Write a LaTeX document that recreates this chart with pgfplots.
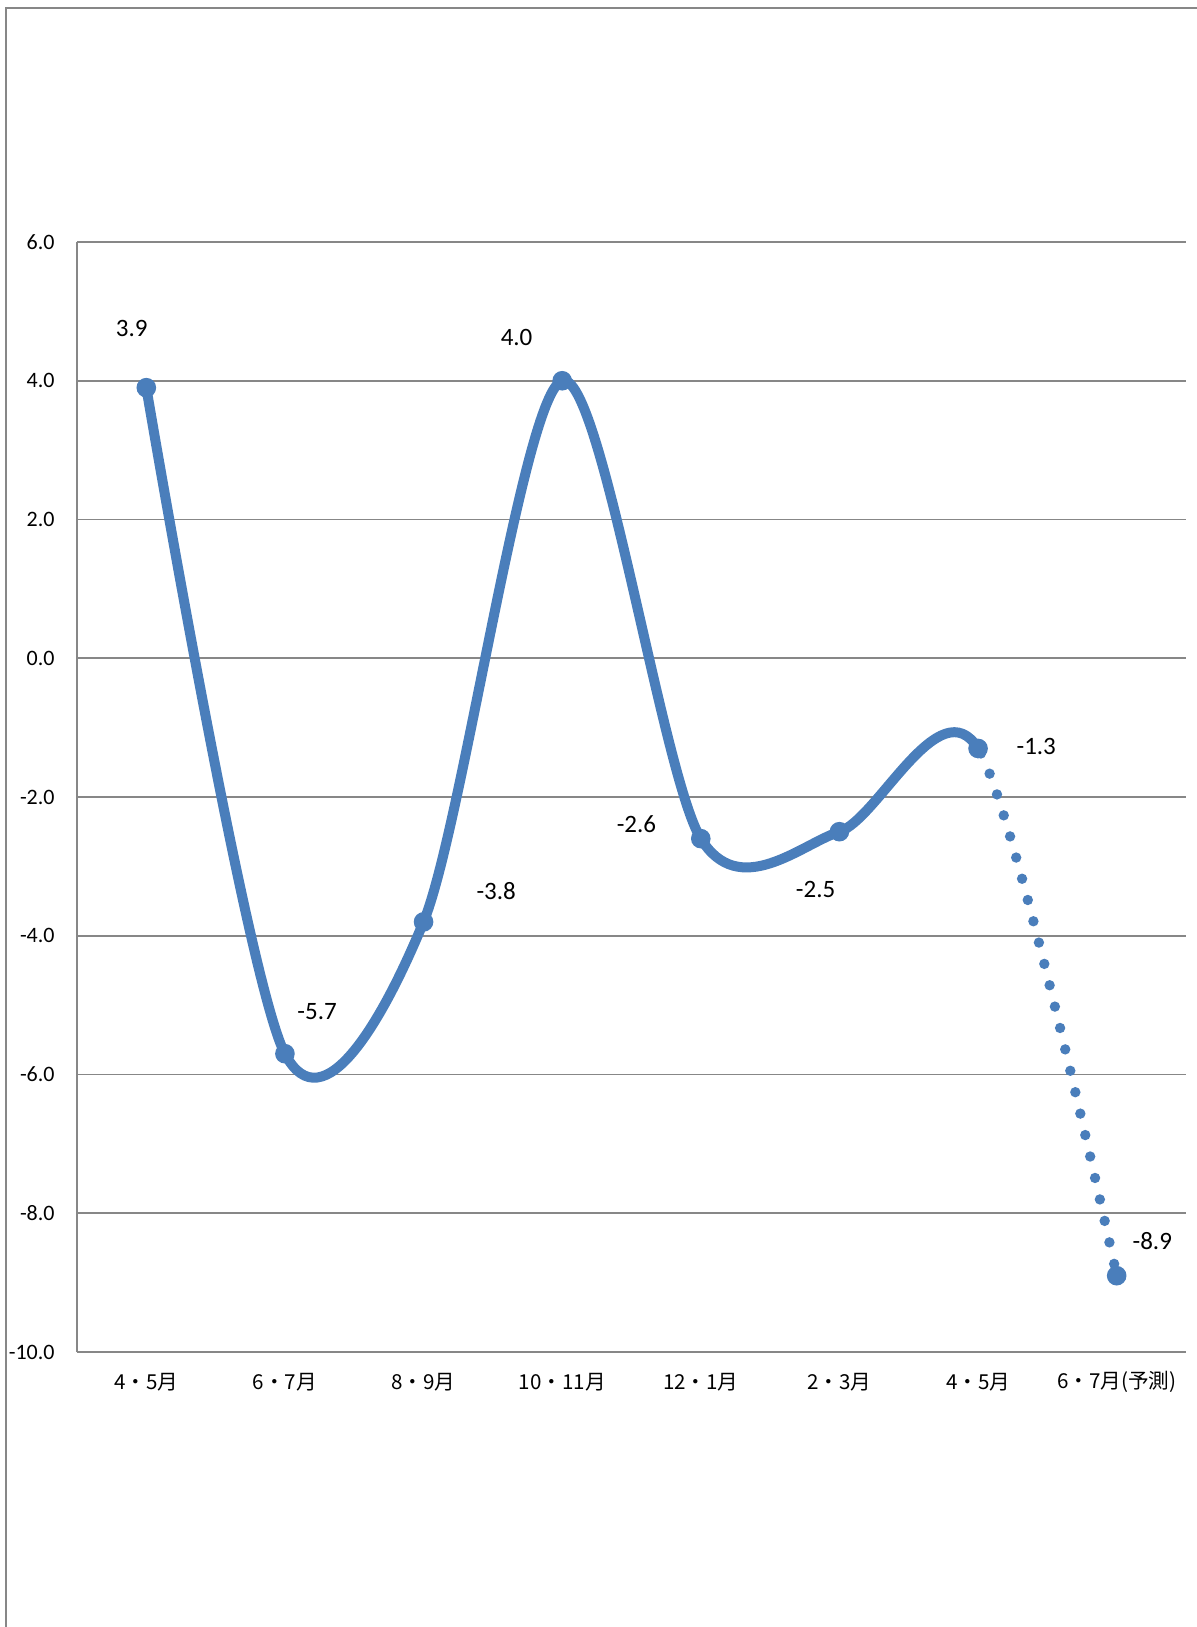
\documentclass[border=0pt]{standalone}
\usepackage{fontspec}
\setmainfont{Carlito}
\newfontfamily\cjk{Noto Sans CJK JP}
\usepackage{pgfplots}
\usepackage{pgfplotstable}
\pgfplotsset{compat=1.18}

\definecolor{serie}{HTML}{4A7EBB}
\definecolor{rule}{HTML}{878787}

% x = category index, y = value, dx/dy = label offset (pt)
\pgfplotstableread{
x y dx dy
0 3.9 -7.3 29.6
1 -5.7 16.1 21.3
2 -3.8 36.3 15.6
3 4.0 -22.8 21.8
4 -2.6 -32.2 7.3
5 -2.5 -11.9 -29.1
6 -1.3 29.1 1
7 -8.9 17.8 17.2
}\data

\pgfplotsset{
  base/.style={
    scale only axis,
    height=555pt,
    ymin=-10, ymax=6,
    at={(38.5pt,-676pt)}, anchor=south west,
  },
}

\begin{document}
\begin{tikzpicture}
\useasboundingbox (0,0) rectangle (598.5pt,-813.5pt);
\draw[rule, line width=1pt] (3pt,-813.5pt) -- (3pt,-4pt) -- (598.5pt,-4pt);

\begin{scope}[overlay]
% grid, labels, markers
\begin{axis}[
    base,
    width=554.5pt,
    xmin=-0.5, xmax=7.5,
    axis x line*=bottom, axis y line*=left,
    axis line style={rule, line width=0.9pt, -},
    ymajorgrids,
    grid style={rule, line width=0.9pt},
    major tick length=0pt,
    ytick={-10,-8,...,6},
    xtick={0,...,7},
    xticklabels={4・5月,6・7月,8・9月,10・11月,12・1月,2・3月,4・5月,6・7月(予測)},
    xticklabel style={font=\cjk\fontsize{10.3}{12}\selectfont, anchor=center, yshift=-15pt},
    yticklabel style={font=\fontsize{11}{13}\selectfont, anchor=east, inner sep=0pt, xshift=-11pt,
      /pgf/number format/fixed, /pgf/number format/fixed zerofill, /pgf/number format/precision=1},
    /pgf/number format/assume math mode=true,
]
\addplot[only marks, mark=*, mark size=4.6pt, serie, mark options={line width=0.6pt},
    point meta=explicit,
    visualization depends on={\thisrow{dx} \as \dx},
    visualization depends on={\thisrow{dy} \as \dy},
    nodes near coords,
    nodes near coords style={font=\fontsize{12.5}{14}\selectfont, black, anchor=center,
      xshift=\dx pt, yshift=\dy pt,
      /pgf/number format/fixed, /pgf/number format/fixed zerofill, /pgf/number format/precision=1},
] table[x=x, y=y, meta=y] {\data};
\end{axis}

% solid smoothed line, up to 4・5月
\begin{axis}[base, width=450.53pt, xmin=-0.5, xmax=6, hide axis, clip=true]
\addplot[serie, line width=5pt, smooth, tension=0.5, line join=round] table[x=x, y=y] {\data};
\end{axis}

% dotted forecast segment
\begin{axis}[base, width=103.97pt, at={(489.03pt,-676pt)}, xmin=6, xmax=7.5, hide axis, clip=true]
\addplot[serie, line width=5.2pt, smooth, tension=0.5, line cap=round, dash pattern=on 0pt off 11pt] table[x=x, y=y] {\data};
\end{axis}
\end{scope}
\end{tikzpicture}
\end{document}
